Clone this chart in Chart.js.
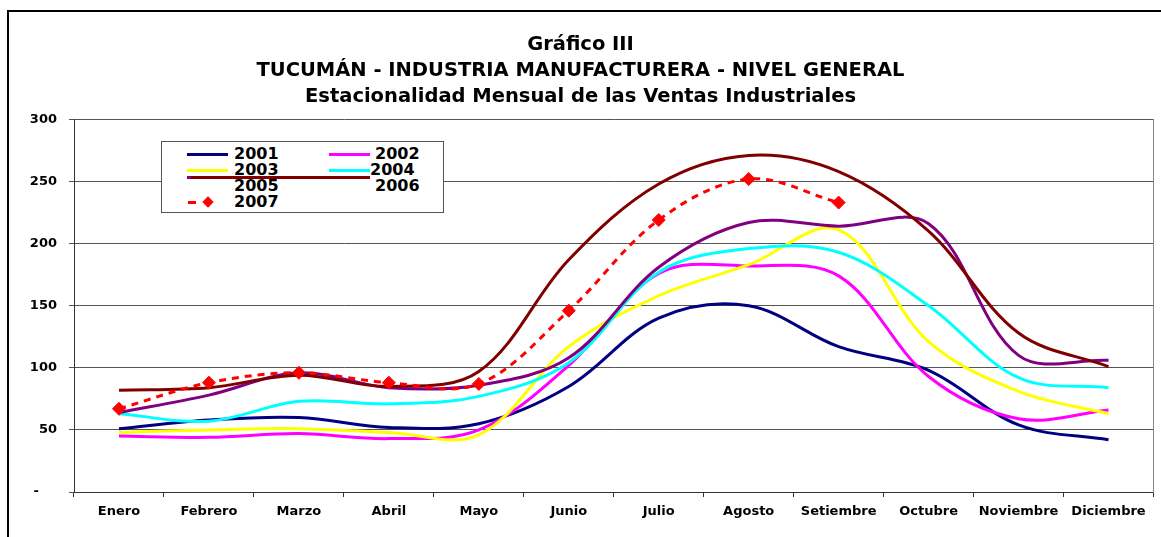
<!DOCTYPE html>
<html>
<head>
<meta charset="utf-8">
<script src="https://cdn.jsdelivr.net/npm/chart.js@4/dist/chart.umd.min.js"></script>
<style>
  body { margin: 0; background: #fff; }
  #wrap { position: relative; width: 1161px; height: 537px; overflow: hidden; }
  #frame { position: absolute; left: 7px; top: 10px; right: 0; bottom: 0; border-top: 2px solid #000; border-left: 2px solid #000; }
  canvas { position: absolute; left: 0; top: 0; }
  #leyenda { position: absolute; left: 161px; top: 141px; width: 281px; height: 70px; border: 1px solid #555; background: #fff;
    font-family: 'DejaVu Sans', Verdana, sans-serif; font-weight: bold; font-size: 16px; color: #000; }
  #leyenda span { position: absolute; line-height: 16px; }
  #leyenda i { position: absolute; height: 3px; display: block; }
  #leyenda b.rombo { position: absolute; width: 8px; height: 8px; background: #f00; transform: rotate(45deg); display: block; }
</style>
</head>
<body>
<div id="wrap">
  <canvas id="grafico" width="1161" height="537"></canvas>
  <div id="frame"></div>
  <div id="leyenda">
    <i style="left:25px;top:11px;width:41px;background:#000080"></i><span style="left:72px;top:4px">2001</span>
    <i style="left:167px;top:11px;width:41px;background:#ff00ff"></i><span style="left:213px;top:4px">2002</span>
    <i style="left:25px;top:27px;width:41px;background:#ffff00"></i><span style="left:72px;top:20px">2003</span>
    <i style="left:167px;top:27px;width:41px;background:#00ffff"></i><span style="left:208px;top:20px">2004</span>
    <i style="left:25px;top:34px;width:41px;background:#800080"></i>
    <i style="left:29px;top:34px;width:179px;background:#800000"></i>
    <span style="left:72px;top:36px">2005</span><span style="left:213px;top:36px">2006</span>
    <i style="left:26px;top:59px;width:8px;background:#f00"></i><b class="rombo" style="left:42px;top:56px"></b><span style="left:72px;top:52px">2007</span>
  </div>
</div>
<script>
const meses = ['Enero', 'Febrero', 'Marzo', 'Abril', 'Mayo', 'Junio', 'Julio', 'Agosto', 'Setiembre', 'Octubre', 'Noviembre', 'Diciembre']
const anios = ['2001', '2002', '2003', '2004', '2005', '2006', '2007']

const v2001 = [51, 58, 60, 52, 55, 85, 140, 150, 117, 98, 54, 42]
const v2002 = [45, 44, 47, 43, 50, 102, 176, 182, 174, 93, 59, 66]
const v2003 = [48, 50, 51, 48, 46, 117, 158, 183, 211, 121, 81, 63]
const v2004 = [63, 57, 73, 71, 77, 104, 177, 196, 193, 150, 92, 84]
const v2005 = [64, 78, 96, 84, 86, 108, 181, 217, 214, 216, 110, 106]
const v2006 = [82, 84, 94, 85, 97, 187, 248, 271, 258, 210, 128, 101]
const v2007 = [67, 88, 96, 88, 87, 146, 219, 252, 233, null, null, null]

const series = [v2001, v2002, v2003, v2004, v2005, v2006, v2007]
const colores = ['#000080', '#ff00ff', '#ffff00', '#00ffff', '#800080', '#800000', '#ff0000']

Chart.defaults.font.family = "'DejaVu Sans', Verdana, sans-serif"
Chart.defaults.font.weight = 'bold'
Chart.defaults.font.size = 13
Chart.defaults.color = '#000'

const datasets = series.map((datos, i) => {
    const ds = {
        label: anios[i],
        data: datos,
        borderColor: colores[i],
        backgroundColor: colores[i],
        borderWidth: 3,
        tension: 0.35,
        pointRadius: 0,
        fill: false,
        order: series.length - 1 - i
    }
    if (anios[i] == '2007') {
        ds.borderDash = [7, 6]
        ds.pointStyle = 'rectRot'
        ds.pointRadius = 6.5
        ds.pointBorderWidth = 1
    }
    return ds
})

const config = {
    type: 'line',
    data: { labels: meses, datasets: datasets },
    options: {
        responsive: false,
        animation: false,
        layout: { padding: { left: 0, right: 0, top: 0, bottom: 0 } },
        plugins: {
            legend: { display: false },
            tooltip: { enabled: false },
            title: {
                display: true,
                text: ['Gráfico III', 'TUCUMÁN - INDUSTRIA MANUFACTURERA - NIVEL GENERAL', 'Estacionalidad Mensual de las Ventas Industriales'],
                font: { size: 19.5, weight: 'bold', lineHeight: 1.34 },
                color: '#000',
                padding: { top: 32, bottom: 9 }
            }
        },
        scales: {
            x: {
                offset: true,
                grid: { offset: true, drawOnChartArea: false, tickLength: 5, color: '#333' },
                border: { color: '#333', width: 1 },
                ticks: { padding: 7, maxRotation: 0, autoSkip: false },
                afterFit: (s) => { s.height = 45; s.paddingLeft = 0; s.paddingRight = 0 }
            },
            y: {
                min: 0,
                max: 300,
                ticks: {
                    stepSize: 50,
                    padding: 12,
                    callback: (v) => v == 0 ? '-    ' : v
                },
                grid: { color: '#555', tickLength: 5 },
                border: { color: '#333', width: 1 },
                afterFit: (s) => { s.width = 74 }
            },
            yDer: {
                position: 'right',
                min: 0,
                max: 300,
                ticks: { display: false },
                grid: { display: false },
                border: { color: '#888', width: 1 },
                afterFit: (s) => { s.width = 1; s.paddingTop = 0; s.paddingBottom = 0 }
            }
        }
    }
}

new Chart(document.getElementById('grafico'), config)
</script>
</body>
</html>
